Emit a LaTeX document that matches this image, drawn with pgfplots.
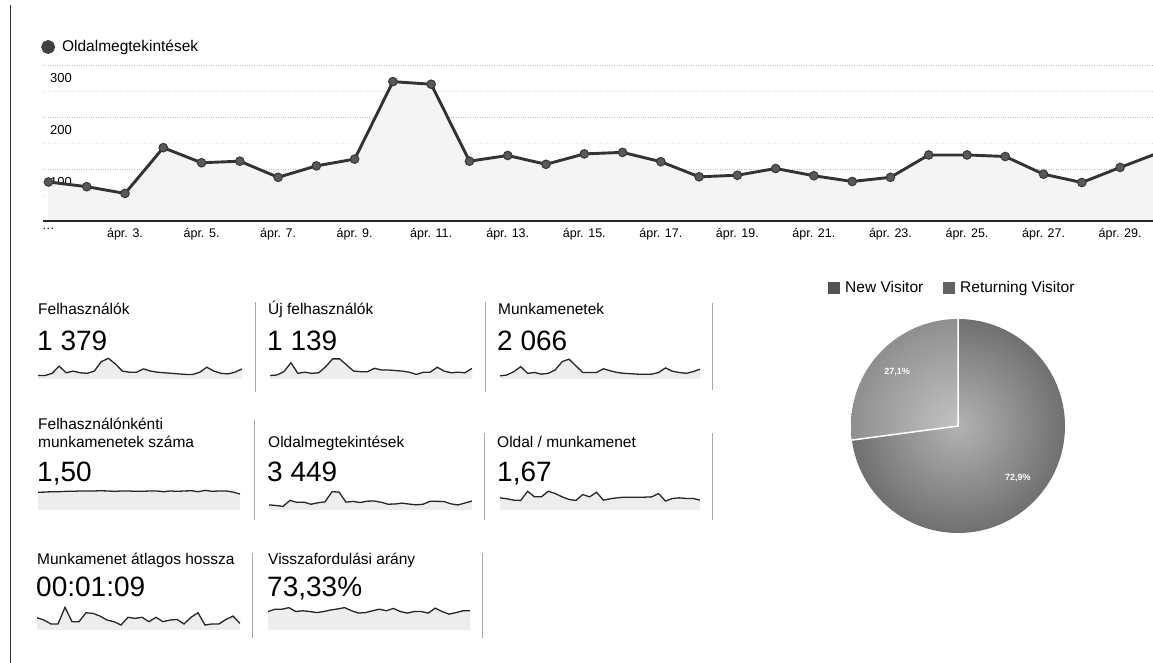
\documentclass[border=0pt]{standalone}
\usepackage{fontspec}
\setmainfont{Liberation Sans}
\usepackage{pgfplots}
\pgfplotsset{compat=1.18}
\usepackage{pgfplotstable}
\pgfplotstableread{
d pv users newu sess spu pps dur bounce
1 75 39 34 58 1.45 1.58 81 71
2 66 39 35 60 1.47 1.46 66 80
3 53 43 41 68 1.50 1.28 40 80
4 141 56 57 80 1.50 1.24 40 86
5 112 44 38 64 1.53 2.44 150 71
6 115 47 40 66 1.53 1.71 55 74
7 84 44 38 62 1.56 1.71 55 71
8 106 43 39 64 1.56 2.44 114 67
9 119 47 50 72 1.56 2.14 110 71
10 268 64 64 92 1.58 1.71 92 77
11 263 70 64 98 1.56 1.37 66 81
12 115 60 53 82 1.53 1.24 55 86
13 126 47 42 66 1.56 2.01 33 74
14 109 45 41 66 1.56 1.71 84 65
15 129 45 41 66 1.53 2.31 77 67
16 132 51 47 75 1.53 1.28 84 74
17 114 47 44 70 1.56 1.46 55 80
18 85 45 44 66 1.56 1.58 84 74
19 88 44 43 64 1.50 1.67 55 83
20 101 43 42 63 1.56 1.67 66 71
21 87 42 40 62 1.53 1.67 70 65
22 76 41 36 62 1.56 1.67 40 71
23 84 41 40 62 1.58 1.71 84 71
24 127 45 40 66 1.50 2.14 114 65
25 127 54 49 77 1.61 1.16 33 84
26 124 47 42 69 1.53 1.50 40 71
27 90 43 39 66 1.56 1.58 40 61
28 74 42 40 64 1.56 1.50 70 67
29 103 45 39 68 1.47 1.50 92 74
30 131 51 47 74 1.31 1.28 44 74
}\data
\def\newv{72.9}
\def\retv{27.1}
\newcommand{\fs}[1]{\fontsize{#1}{#1}\selectfont}
\pgfplotsset{
  spark/.style={scale only axis, hide axis, anchor=south west, xmin=1, xmax=30, clip=true},
  sparkfill/.style={fill=gray!14, draw=none, forget plot},
  sparkline/.style={black!85, line width=1.3pt, no marks},
}
\begin{document}
\begin{tikzpicture}[x=1pt,y=1pt]
\path[use as bounding box, fill=white] (0,0) rectangle (1153,663);
\draw[black!80, line width=1pt] (10,0) -- (10,658);

% main line chart
\begin{axis}[
  at={(43pt,442pt)}, anchor=south west,
  scale only axis, width=1110pt, height=156pt,
  xmin=0.857, xmax=29.86, ymin=0, ymax=300,
  axis x line*=bottom, axis y line*=left,
  x axis line style={draw=none, -},
  y axis line style={draw=none, -},
  xtick={1,3,...,29},
  xticklabels={\dots, ápr. 3., ápr. 5., ápr. 7., ápr. 9., ápr. 11., ápr. 13., ápr. 15., ápr. 17., ápr. 19., ápr. 21., ápr. 23., ápr. 25., ápr. 27., ápr. 29.},
  ytick={100,200,300},
  yticklabels={100,200,300},
  minor ytick={50,150,250},
  ymajorgrids, yminorgrids,
  major grid style={gray!50, dotted, line width=0.7pt},
  minor grid style={gray!22, dotted, line width=0.5pt},
  major tick length=0pt, minor tick length=0pt,
  /pgf/number format/assume math mode=true,
  xticklabel style={font=\fs{12.5}, yshift=-4pt},
  yticklabel style={font=\fs{13}, anchor=north west, inner sep=0pt, xshift=7pt, yshift=-8pt},
  legend style={at={(0,1)}, anchor=west, xshift=-2pt, yshift=18pt, draw=none, fill=none,
    inner sep=0pt, font=\fs{15.5}, /tikz/every odd column/.append style={column sep=5pt}},
  legend image code/.code={\fill[black!75] (0pt,0pt) circle (5.5pt);},
  legend cell align=left,
  clip=true,
]
\addplot[fill=gray!9, draw=none, forget plot] table[x=d,y=pv]{\data} \closedcycle;
\addplot[line width=2.9pt, color=black!80, mark=*, mark size=4.3pt,
  mark options={fill=black!65, draw=black!78, line width=1pt}] table[x=d,y=pv]{\data};
\addlegendentry{Oldalmegtekintések}
\end{axis}
\draw[line width=2.2pt, black!85] (43,442) -- (1153,442);

% panel separators
\begin{scope}[gray!70, line width=0.8pt]
\draw (255,361) -- (255,271);
\draw (485,361) -- (485,271);
\draw (712,360) -- (712,273);
\draw (254,243) -- (254,143);
\draw (484,230) -- (484,143);
\draw (712,230) -- (712,143);
\draw (252,110) -- (252,25);
\draw (482,110) -- (482,25);
\end{scope}

% row 1 texts
\node[anchor=base west, inner sep=0pt, font=\fs{15.5}] at (38,348) {Felhasználók};
\node[anchor=base west, inner sep=0pt, font=\fs{15.5}] at (268,348) {Új felhasználók};
\node[anchor=base west, inner sep=0pt, font=\fs{15.5}] at (498,348) {Munkamenetek};
\node[anchor=base west, inner sep=0pt, font=\fs{28}] at (37,312) {1 379};
\node[anchor=base west, inner sep=0pt, font=\fs{28}] at (267,312) {1 139};
\node[anchor=base west, inner sep=0pt, font=\fs{28}] at (497,312) {2 066};
% row 2 texts
\node[anchor=base west, inner sep=0pt, font=\fs{15.5}] at (38,233) {Felhasználónkénti};
\node[anchor=base west, inner sep=0pt, font=\fs{15.5}] at (38,215) {munkamenetek száma};
\node[anchor=base west, inner sep=0pt, font=\fs{15.5}] at (268,215) {Oldalmegtekintések};
\node[anchor=base west, inner sep=0pt, font=\fs{15.5}] at (497,215) {Oldal / munkamenet};
\node[anchor=base west, inner sep=0pt, font=\fs{28}] at (37,181) {1,50};
\node[anchor=base west, inner sep=0pt, font=\fs{28}] at (267,181) {3 449};
\node[anchor=base west, inner sep=0pt, font=\fs{28}] at (497,181) {1,67};
% row 3 texts
\node[anchor=base west, inner sep=0pt, font=\fs{15.5}] at (37,98) {Munkamenet átlagos hossza};
\node[anchor=base west, inner sep=0pt, font=\fs{15.5}] at (268,98) {Visszafordulási arány};
\node[anchor=base west, inner sep=0pt, font=\fs{28}] at (36,66) {00:01:09};
\node[anchor=base west, inner sep=0pt, font=\fs{28}] at (267,66) {73,33\%};

% sparklines row 1
\begin{axis}[spark, at={(38pt,284pt)}, width=204pt, height=24pt, ymin=32.8, ymax=76]
\addplot[sparkfill] table[x=d,y=users]{\data} \closedcycle;
\addplot[sparkline] table[x=d,y=users]{\data};
\end{axis}
\begin{axis}[spark, at={(270pt,284pt)}, width=202pt, height=24pt, ymin=27.8, ymax=71]
\addplot[sparkfill] table[x=d,y=newu]{\data} \closedcycle;
\addplot[sparkline] table[x=d,y=newu]{\data};
\end{axis}
\begin{axis}[spark, at={(500pt,284pt)}, width=200pt, height=24pt, ymin=50.4, ymax=108]
\addplot[sparkfill] table[x=d,y=sess]{\data} \closedcycle;
\addplot[sparkline] table[x=d,y=sess]{\data};
\end{axis}
% sparklines row 2
\begin{axis}[spark, at={(38pt,153pt)}, width=202pt, height=20pt, ymin=0, ymax=1.64]
\addplot[sparkfill] table[x=d,y=spu]{\data} \closedcycle;
\addplot[sparkline] table[x=d,y=spu]{\data};
\end{axis}
\begin{axis}[spark, at={(269pt,153pt)}, width=203pt, height=20pt, ymin=0, ymax=293]
\addplot[sparkfill] table[x=d,y=pv]{\data} \closedcycle;
\addplot[sparkline] table[x=d,y=pv]{\data};
\end{axis}
\begin{axis}[spark, at={(500pt,153pt)}, width=200pt, height=20pt, ymin=0, ymax=2.6]
\addplot[sparkfill] table[x=d,y=pps]{\data} \closedcycle;
\addplot[sparkline] table[x=d,y=pps]{\data};
\end{axis}
% sparklines row 3
\begin{axis}[spark, at={(37pt,33pt)}, width=203pt, height=26pt, ymin=0, ymax=172]
\addplot[sparkfill] table[x=d,y=dur]{\data} \closedcycle;
\addplot[sparkline] table[x=d,y=dur]{\data};
\end{axis}
\begin{axis}[spark, at={(268pt,33pt)}, width=202pt, height=26pt, ymin=0, ymax=100]
\addplot[sparkfill] table[x=d,y=bounce]{\data} \closedcycle;
\addplot[sparkline] table[x=d,y=bounce]{\data};
\end{axis}

% pie legend
\fill[black!68] (828,369) rectangle (840,381);
\node[anchor=base west, inner sep=0pt, font=\fs{15.5}] at (845,370) {New Visitor};
\fill[black!62] (943,369) rectangle (955,381);
\node[anchor=base west, inner sep=0pt, font=\fs{15.5}] at (960,370) {Returning Visitor};

% pie
\begin{axis}[at={(958pt,237pt)}, anchor=center, scale only axis, width=214pt, height=214pt,
  xmin=-1, xmax=1, ymin=-1, ymax=1, hide axis, clip=false]
\pgfmathsetmacro{\angB}{90+360*\retv/100}
\shade[inner color=black!30, outer color=black!56] (axis cs:0,0) circle[radius=107pt];
\fill[white, opacity=0.22] (axis cs:0,0) -- (axis cs:0,1) arc[start angle=90, end angle=\angB, radius=107pt] -- cycle;
\draw[white, line width=1.5pt] (axis cs:0,1) -- (axis cs:0,0) -- +(\angB:107pt);
\node[white, font=\bfseries\fs{9}] at (axis cs:-0.57,0.50) {27,1\%};
\node[white, font=\bfseries\fs{9}] at (axis cs:0.56,-0.49) {72,9\%};
\end{axis}
\end{tikzpicture}
\end{document}
